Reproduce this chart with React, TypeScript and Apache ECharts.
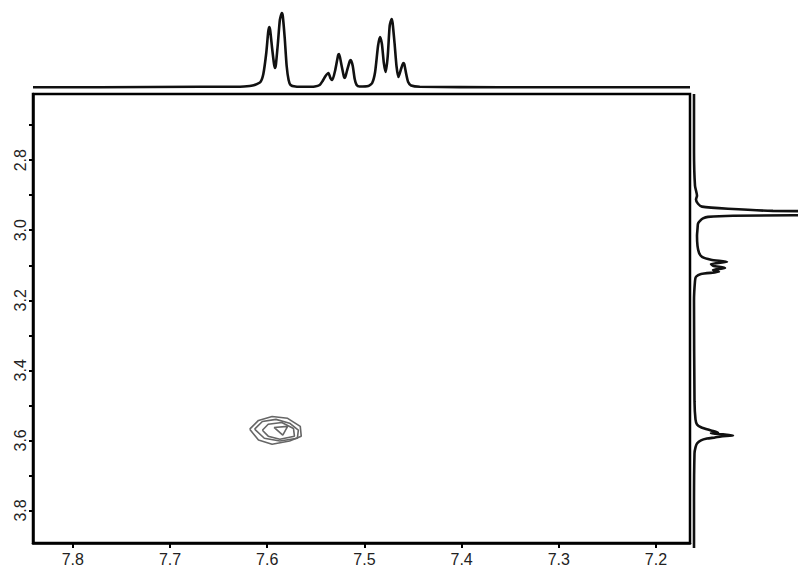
import React, { useEffect, useRef } from "react";
import * as echarts from "echarts";

// Axis ranges (ppm)
const F2_MIN = 7.165;
const F2_MAX = 7.841;
const F1_MIN = 2.611;
const F1_MAX = 3.893;

const xTickValues = [7.2, 7.3, 7.4, 7.5, 7.6, 7.7, 7.8];
const yTickValues = [2.7, 2.8, 2.9, 3.0, 3.1, 3.2, 3.3, 3.4, 3.5, 3.6, 3.7, 3.8];
const yLabelValues = [2.8, 3.0, 3.2, 3.4, 3.6, 3.8];

// Top 1D projection (F2): [ppm, intensity]
const topSpectrum: [number, number][] = [
  [7.841, 0.8], [7.772, 0.8], [7.669, 1.2], [7.628, 1.2], [7.618, 2], [7.613, 3],
  [7.607, 6], [7.604, 14], [7.601, 35], [7.599, 56], [7.598, 61], [7.597, 58],
  [7.595, 40], [7.593, 24], [7.592, 20], [7.591, 24], [7.589, 45], [7.587, 68],
  [7.585, 75], [7.584, 72], [7.582, 50], [7.580, 22], [7.578, 8], [7.576, 3],
  [7.571, 1.5], [7.561, 1.2], [7.551, 1.5], [7.546, 3], [7.543, 7], [7.540, 12],
  [7.537, 15], [7.535, 10], [7.533, 8], [7.530, 18], [7.527, 33], [7.526, 34],
  [7.524, 25], [7.521, 11], [7.520, 10], [7.518, 17], [7.515, 27], [7.514, 28],
  [7.512, 22], [7.510, 9], [7.508, 3], [7.505, 1.5], [7.496, 2], [7.492, 5],
  [7.489, 16], [7.486, 42], [7.484, 51], [7.482, 44], [7.480, 25], [7.478, 16],
  [7.476, 32], [7.474, 62], [7.472, 69], [7.471, 65], [7.469, 45], [7.467, 22],
  [7.465, 11], [7.462, 20], [7.460, 25], [7.459, 24], [7.457, 14], [7.455, 6],
  [7.452, 2.5], [7.443, 1.2], [7.361, 0.8], [7.165, 0.8],
];

// Right 1D projection (F1): [intensity, ppm]
const rightSpectrum: [number, number][] = [
  [1, 2.611], [1, 2.771], [2, 2.870], [4, 2.898], [3, 2.909], [5, 2.921],
  [9, 2.929], [35, 2.935], [80, 2.941], [160, 2.943], [200, 2.946], [200, 2.949],
  [160, 2.952], [40, 2.955], [15, 2.958], [10, 2.962], [7, 2.969], [5, 2.977],
  [4.5, 2.992], [4, 3.011], [4.5, 3.040], [6, 3.059], [9, 3.071], [18, 3.079],
  [34, 3.085], [18, 3.091], [20, 3.096], [32, 3.102], [20, 3.108], [26, 3.113],
  [8, 3.119], [3, 3.127], [2, 3.139], [1, 3.195], [1.5, 3.479], [2.5, 3.530],
  [4, 3.544], [8, 3.552], [18, 3.561], [25, 3.567], [18, 3.569], [30, 3.572],
  [40, 3.575], [28, 3.578], [22, 3.581], [14, 3.584], [8, 3.589], [4, 3.598],
  [2.5, 3.609], [1.5, 3.626], [1, 3.762], [1, 3.893],
];

// Cross-peak contour levels: [F2 ppm, F1 ppm]
const contour1: [number, number][] = [
  [7.618, 3.568], [7.609, 3.543], [7.595, 3.532], [7.579, 3.537], [7.566, 3.560],
  [7.565, 3.588], [7.577, 3.602], [7.595, 3.611], [7.609, 3.599], [7.618, 3.568],
];
const contour2: [number, number][] = [
  [7.613, 3.568], [7.605, 3.546], [7.591, 3.540], [7.577, 3.551], [7.568, 3.571],
  [7.569, 3.594], [7.587, 3.602], [7.603, 3.594], [7.613, 3.568],
];
const contour3: [number, number][] = [
  [7.605, 3.571], [7.599, 3.554], [7.585, 3.549], [7.573, 3.566], [7.572, 3.588],
  [7.587, 3.597], [7.599, 3.588], [7.605, 3.571],
];
const contour4: [number, number][] = [
  [7.593, 3.563], [7.579, 3.560], [7.584, 3.585], [7.593, 3.563],
];
const contours = [contour1, contour2, contour3, contour4];

const FONT = "'Liberation Sans', Arial, Helvetica, sans-serif";

export default function App() {
  const ref = useRef<HTMLDivElement>(null);
  useEffect(() => {
    if (!ref.current) return;
    const chart = echarts.init(ref.current, undefined, { renderer: "svg" });
    const contourSeries = contours.map((c) => ({
      type: "line",
      xAxisIndex: 0,
      yAxisIndex: 0,
      data: c,
      symbol: "none",
      smooth: false,
      lineStyle: { color: "#666", width: 1.6 },
      silent: true,
    }));
    chart.setOption({
      animation: false,
      backgroundColor: "#fff",
      grid: [
        { left: 33, right: 108, top: 94, bottom: 19, show: true, borderColor: "#000", borderWidth: 2.5, backgroundColor: "transparent" },
        { left: 33, right: 108, top: 0, height: 88, show: false },
        { left: 693, right: 0, top: 94, bottom: 19, show: false },
      ],
      xAxis: [
        {
          type: "value",
          gridIndex: 0,
          inverse: true,
          min: F2_MIN,
          max: F2_MAX,
          splitLine: { show: false },
          axisLine: { show: true, onZero: false, lineStyle: { color: "#000", width: 2.5 } },
          axisTick: { show: true, length: 5, customValues: xTickValues, lineStyle: { color: "#000", width: 2 } },
          axisLabel: {
            customValues: xTickValues,
            formatter: (v: number) => v.toFixed(1),
            color: "#222",
            fontSize: 16,
            fontFamily: FONT,
            margin: 8,
          },
        },
        { type: "value", gridIndex: 1, inverse: true, min: F2_MIN, max: F2_MAX, show: false },
        { type: "value", gridIndex: 2, min: 0, max: 105, show: false },
      ],
      yAxis: [
        {
          type: "value",
          gridIndex: 0,
          inverse: true,
          min: F1_MIN,
          max: F1_MAX,
          splitLine: { show: false },
          axisLine: { show: true, onZero: false, lineStyle: { color: "#000", width: 2.5 } },
          axisTick: { show: true, length: 4, customValues: yTickValues, lineStyle: { color: "#000", width: 2 } },
          axisLabel: {
            customValues: yLabelValues,
            formatter: (v: number) => v.toFixed(1),
            rotate: 90,
            color: "#222",
            fontSize: 16,
            fontFamily: FONT,
            margin: 5,
          },
        },
        { type: "value", gridIndex: 1, min: 0, max: 88, show: false },
        { type: "value", gridIndex: 2, inverse: true, min: F1_MIN, max: F1_MAX, show: false },
      ],
      series: [
        ...contourSeries,
        {
          type: "line",
          xAxisIndex: 1,
          yAxisIndex: 1,
          data: topSpectrum,
          symbol: "none",
          smooth: 0.2,
          lineStyle: { color: "#111", width: 2.6 },
          silent: true,
        },
        {
          type: "line",
          xAxisIndex: 2,
          yAxisIndex: 2,
          data: rightSpectrum,
          symbol: "none",
          smooth: 0.2,
          lineStyle: { color: "#111", width: 2.6 },
          silent: true,
        },
      ],
    });
    return () => chart.dispose();
  }, []);
  return (
    <div
      ref={ref}
      style={{ position: "fixed", left: 0, top: 0, width: 798, height: 567, background: "#fff" }}
    />
  );
}
